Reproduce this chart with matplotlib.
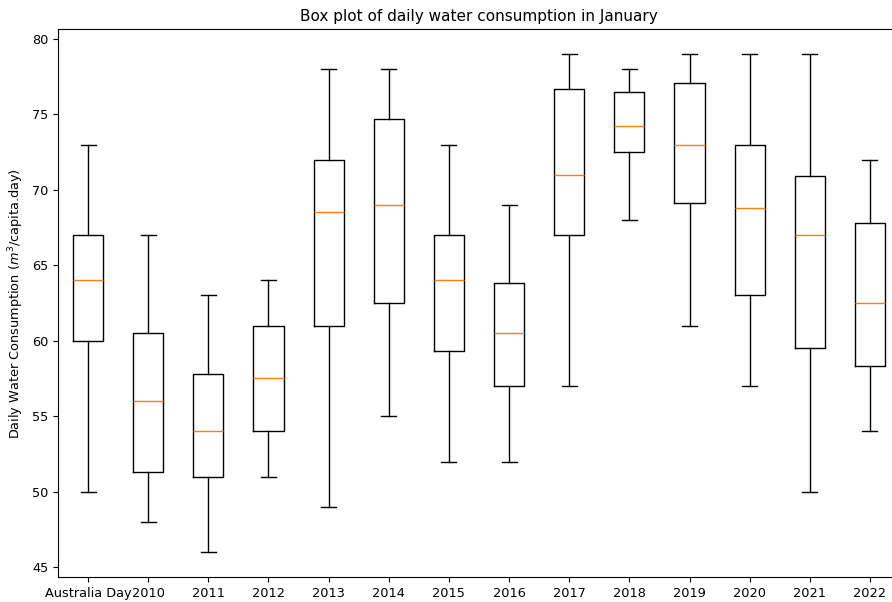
import matplotlib
matplotlib.use('Agg')
import matplotlib.pyplot as plt

labels = ['Australia Day', '2010', '2011', '2012', '2013', '2014', '2015',
          '2016', '2017', '2018', '2019', '2020', '2021', '2022']
whisker_low = [50, 48, 46, 51, 49, 55, 52, 52, 57, 68, 61, 57, 50, 54]
q1 = [60, 51.3, 51, 54, 61, 62.5, 59.3, 57, 67, 72.5, 69.1, 63, 59.5, 58.3]
median = [64, 56, 54, 57.5, 68.5, 69, 64, 60.5, 71, 74.2, 73, 68.8, 67, 62.5]
q3 = [67, 60.5, 57.8, 61, 72, 74.7, 67, 63.8, 76.7, 76.5, 77.1, 73, 70.9, 67.8]
whisker_high = [73, 67, 63, 64, 78, 78, 73, 69, 79, 78, 79, 79, 79, 72]

stats = []
for i in range(len(labels)):
    stats.append({
        'label': labels[i],
        'whislo': whisker_low[i],
        'q1': q1[i],
        'med': median[i],
        'q3': q3[i],
        'whishi': whisker_high[i],
        'fliers': [],
    })

plt.rcParams['font.size'] = 9.3

fig = plt.figure(figsize=(8.92, 6.02), dpi=100)
# the original screenshot cuts off the right edge of the axes
ax = fig.add_axes([0.065, 0.0415, 0.944, 0.9103])
ax.bxp(stats, showfliers=False)

ax.set_title('Box plot of daily water consumption in January', fontsize=11)
ax.set_ylabel('Daily Water Consumption ($m^3$/capita.day)')

fig.savefig('out.png', dpi=100)
